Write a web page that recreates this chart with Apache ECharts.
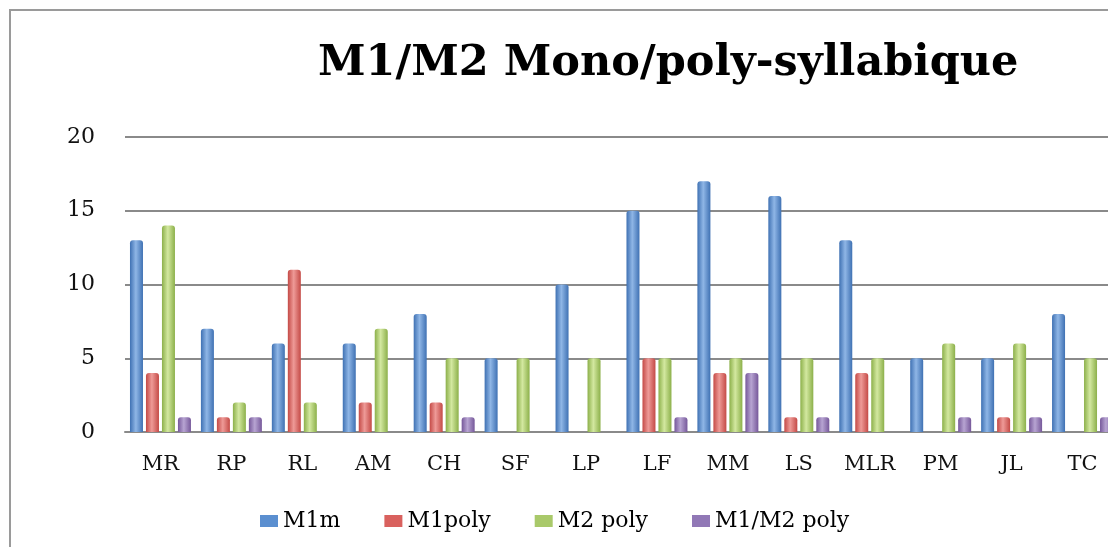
<!DOCTYPE html>
<html><head><meta charset="utf-8">
<script src="https://cdn.jsdelivr.net/npm/echarts@6/dist/echarts.min.js"></script>
<style>html,body{margin:0;padding:0;overflow:hidden;background:#fff}#c{width:1125px;height:547px}</style>
</head><body><div id="c"></div>
<script>
const categories = ['MR','RP','RL','AM','CH','SF','LP','LF','MM','LS','MLR','PM','JL','TC'];
const m1m      = [13, 7, 6, 6, 8, 5, 10, 15, 17, 16, 13, 5, 5, 8];
const m1poly   = [4, 1, 11, 2, 2, 0, 0, 5, 4, 1, 4, 0, 1, 0];
const m2poly   = [14, 2, 2, 7, 5, 5, 5, 5, 5, 5, 5, 6, 6, 5];
const m1m2poly = [1, 1, 0, 0, 1, 0, 0, 1, 4, 1, 0, 1, 1, 1];
const seriesNames = ['M1m','M1poly','M2 poly','M1/M2 poly'];
const yTicks = {min: 0, max: 20, interval: 5};

function grad(edge, mid){
  return new echarts.graphic.LinearGradient(0,0,1,0,[
    {offset:0,color:edge},{offset:0.45,color:mid},{offset:1,color:edge}]);
}
const styles = [
  grad('#3f71b3','#8fb6e6'),
  grad('#c44a46','#ee9a97'),
  grad('#8cb04a','#d3e8a0'),
  grad('#76589a','#b7a4d2')
];
const legendColors = ['#5b8fd0','#d9615e','#a9c96a','#9178b6'];
const data = [m1m, m1poly, m2poly, m1m2poly];
const serif = 'DejaVu Serif';
const chart = echarts.init(document.getElementById('c'));
chart.setOption({
  animation:false,
  graphic:[{type:'rect',shape:{x:10,y:10,width:1300,height:700},style:{fill:'none',stroke:'#9a9a9a',lineWidth:2},silent:true}],
  title:{text:'M1/M2 Mono/poly-syllabique',left:313,top:37,
    textStyle:{fontFamily:serif,fontWeight:'bold',fontSize:43,color:'#000'}},
  legend:{top:505,left:255,itemWidth:18,itemHeight:12,itemGap:44,icon:'rect',
    data:seriesNames.map((n,i)=>({name:n,itemStyle:{color:legendColors[i]}})),
    textStyle:{fontFamily:serif,fontSize:22,color:'#000'}},
  grid:{left:125,right:7,top:137,bottom:115},
  xAxis:{type:'category',data:categories,
    axisLine:{lineStyle:{color:'#8a8a8a',width:2}},axisTick:{show:false},
    axisLabel:{fontFamily:serif,fontSize:21,color:'#111',margin:22}},
  yAxis:{type:'value',min:yTicks.min,max:yTicks.max,interval:yTicks.interval,
    axisLine:{show:false},axisTick:{show:false},
    splitLine:{lineStyle:{color:'#8a8a8a',width:2}},
    axisLabel:{fontFamily:serif,fontSize:22,color:'#111',margin:30}},
  series:seriesNames.map((n,i)=>({name:n,type:'bar',data:data[i],barWidth:13,barGap:'23%',
    itemStyle:{color:styles[i],borderRadius:[3,3,0,0]}}))
});
</script></body></html>
